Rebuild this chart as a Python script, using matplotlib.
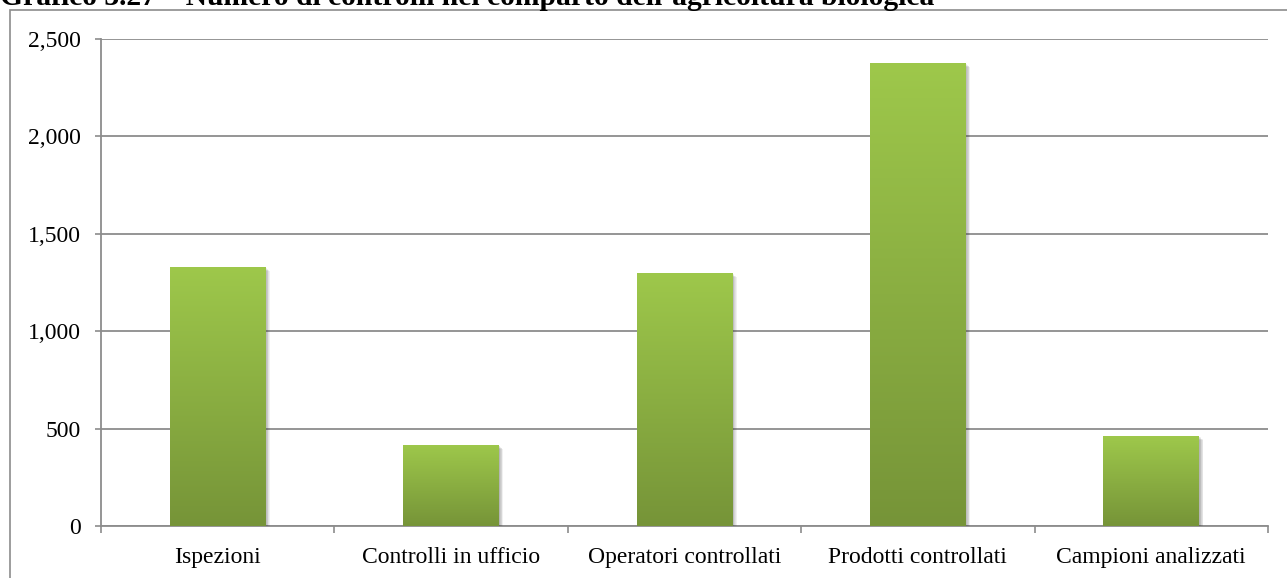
import matplotlib
matplotlib.use("Agg")
import matplotlib.pyplot as plt
import matplotlib.patheffects as pe
from matplotlib.patches import Rectangle
from matplotlib.ticker import FuncFormatter
import numpy as np

# dati del grafico
categorie = ["Ispezioni", "Controlli in ufficio", "Operatori controllati",
             "Prodotti controllati", "Campioni analizzati"]
valori = [1330, 416, 1300, 2377, 462]
titolo = "Grafico 3.27 \u2013 Numero di controlli nel comparto dell\u2019agricoltura biologica"

plt.rcParams["font.family"] = ["Liberation Serif", "DejaVu Serif"]

W, H = 1287, 578
fig = plt.figure(figsize=(W / 100, H / 100), dpi=100)
ax = fig.add_axes([101 / W, 1 - 526 / H, (1268 - 101) / W, (526 - 39) / H])

# cornice esterna
fig.add_artist(Rectangle((10 / W, -0.1), 1.0, 1 - 10 / H + 0.1,
                         transform=fig.transFigure, fill=False,
                         edgecolor="#8c8c8c", linewidth=1.2))
fig.text(0, 1 - 5 / H, titolo, fontsize=21.3, fontweight="bold",
         va="baseline", ha="left")

colore_alto = np.array([0x9e, 0xc8, 0x4b]) / 255
colore_basso = np.array([0x76, 0x94, 0x38]) / 255
grad = np.linspace(0, 1, 256)[:, None, None]
img = colore_basso + (colore_alto - colore_basso) * grad

# ombra morbida: piu' strati leggeri
ombra = [pe.SimplePatchShadow(offset=(d, -d), shadow_rgbFace="#333333", alpha=0.07)
         for d in (0.5, 1.0, 1.5, 2.0, 2.5, 3.0)]

x = np.arange(len(categorie))
barre = ax.bar(x, valori, width=0.41, color=colore_basso, zorder=3,
               path_effects=ombra + [pe.Normal()])
for b in barre:
    x0, y0 = b.get_x(), b.get_y()
    im = ax.imshow(img, extent=[x0, x0 + b.get_width(), y0, y0 + b.get_height()],
                   origin="lower", aspect="auto", zorder=4)
    im.set_clip_path(b)

ax.set_xlim(-0.5, len(categorie) - 0.5)
ax.set_ylim(0, 2500)
ax.set_yticks(np.arange(0, 2501, 500))
ax.yaxis.set_major_formatter(FuncFormatter(lambda v, p: f"{int(v):,}"))
ax.grid(axis="y", color="#8c8c8c", linewidth=1.3, zorder=0)
ax.set_axisbelow(True)

ax.set_xticks(x)
ax.set_xticklabels(categorie)
ax.set_xticks(np.arange(-0.5, len(categorie), 1), minor=True)
ax.tick_params(axis="x", which="major", length=0, pad=15, labelsize=17)
ax.tick_params(axis="x", which="minor", length=5, width=1.2, color="#8c8c8c", direction="out")
ax.tick_params(axis="y", length=4.5, width=1.2, color="#8c8c8c", pad=10, labelsize=17)

for s in ["top", "right"]:
    ax.spines[s].set_visible(False)
for s in ["left", "bottom"]:
    ax.spines[s].set_color("#8c8c8c")
    ax.spines[s].set_linewidth(1.3)

fig.savefig("out.png", dpi=100)
